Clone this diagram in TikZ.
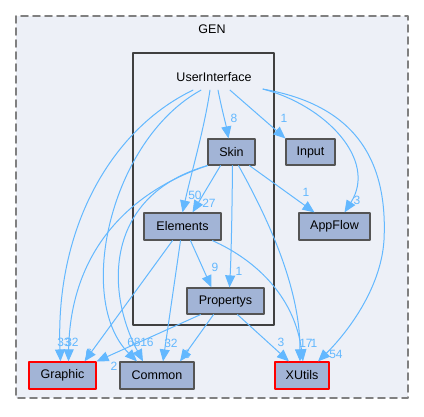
\documentclass[tikz,border=0pt]{standalone}
\usepackage{fontspec}
\setmainfont{Liberation Sans}
\usetikzlibrary{calc}
\usetikzlibrary{arrows.meta}

\begin{document}
\begin{tikzpicture}[line cap=round,line join=round,x=1pt,y=-1pt,
  dirnode/.style={draw=nodegray,line width=1.2pt,fill=nodefill,minimum height=26pt,inner sep=0pt,font=\fontsize{12.5}{15}\selectfont},
  extnode/.style={dirnode,draw=red},
  dep/.style={-{Triangle[length=12pt,width=10pt]},color=edgeblue,line width=1pt},
  lbl/.style={color=edgeblue,font=\fontsize{12}{14}\selectfont,inner sep=0pt}]
\definecolor{nodefill}{rgb}{0.635,0.706,0.839}
\definecolor{nodegray}{rgb}{0.33,0.33,0.33}
\definecolor{edgeblue}{rgb}{0.388,0.722,1.}
\definecolor{clusterfill}{rgb}{0.929,0.941,0.969}
\definecolor{dashgray}{rgb}{0.5,0.5,0.5}
\definecolor{framegray}{rgb}{0.25,0.25,0.25}
\useasboundingbox (0,0) rectangle (424,416);
\fill[color=white] (0,0) rectangle (424,416);
\draw [line width=1.6pt,dash pattern=on 7pt off 5pt,color=dashgray,fill=clusterfill] (16,16) rectangle (408,398);
\node[font=\fontsize{12.5}{15}\selectfont] (gen) at (212,29) {GEN};
\draw [line width=2.2pt,color=framegray,fill=clusterfill] (133,53) rectangle (274,325);
\node[font=\fontsize{12.5}{15}\selectfont] (ui) at (214,77) {UserInterface};
% directories
\node[dirnode,minimum width=47pt] (skin) at (231.5,152) {Skin};
\node[dirnode,minimum width=49pt] (input) at (310.5,152) {Input};
\node[dirnode,minimum width=71pt,minimum height=27pt] (appflow) at (334.5,226.5) {AppFlow};
\node[dirnode,minimum width=77pt,minimum height=27pt] (elements) at (182.5,226.5) {Elements};
\node[dirnode,minimum width=77pt] (propertys) at (225.5,301) {Propertys};
\node[extnode,minimum width=67pt,minimum height=27pt] (graphic) at (62.5,375.5) {Graphic};
\node[dirnode,minimum width=74pt,minimum height=27pt] (common) at (157,375.5) {Common};
\node[extnode,minimum width=54pt,minimum height=27pt] (xutils) at (302,375.5) {XUtils};
% from UserInterface
\draw [dep] ([xshift=4pt,yshift=-5pt]ui.south) .. controls (222,110) and (226,125) .. ([xshift=-3pt]skin.north);
\draw [dep] ([xshift=16pt,yshift=-5pt]ui.south) -- (input.north west);
\draw [dep] ([xshift=49pt,yshift=-4pt]ui.south) .. controls (325,105) and (378,160) .. ([xshift=10pt]appflow.north);
\draw [dep] ([xshift=49pt,yshift=-4pt]ui.south) .. controls (355,105) and (388,160) .. (384,240) .. controls (381,290) and (345,335) .. ([xshift=16pt]xutils.north);
\draw [dep] ([xshift=-4pt,yshift=-5pt]ui.south) .. controls (204,130) and (192,170) .. (elements.north);
\draw [dep] ([xshift=-21pt,yshift=-5pt]ui.south) .. controls (110,130) and (55,230) .. ([xshift=-2pt]graphic.north);
\draw [dep] ([xshift=-13pt,yshift=-5pt]ui.south) .. controls (110,140) and (75,300) .. ([xshift=-20pt]common.north);
% from Skin
\draw [dep] ([xshift=-11pt]skin.south) -- ([xshift=10pt]elements.north);
\draw [dep] ([xshift=18pt]skin.south) -- ([xshift=-20pt]appflow.north);
\draw [dep] ([xshift=1pt]skin.south) .. controls (232,220) and (231,260) .. ([xshift=4pt]propertys.north);
\draw [dep] ([xshift=7pt]skin.south) .. controls (280,240) and (300,300) .. ([xshift=-2pt]xutils.north);
\draw [dep] (skin.south west) .. controls (120,195) and (70,260) .. ([xshift=6pt]graphic.north);
\draw [dep] (skin.south west) .. controls (105,195) and (105,290) .. ([xshift=-14pt]common.north);
% from Elements
\draw [dep] ([xshift=8pt]elements.south) -- ([xshift=-14pt]propertys.north);
\draw [dep] ([xshift=-10pt]elements.south) -- ([xshift=22pt]graphic.north);
\draw [dep] ([xshift=-2pt]elements.south) -- ([xshift=6pt]common.north);
\draw [dep] ([xshift=30pt]elements.south) .. controls (260,262) and (295,300) .. ([xshift=1pt]xutils.north);
% from Propertys
\draw [dep] ([xshift=-25pt]propertys.south) -- (graphic.north east);
\draw [dep] ([xshift=-12pt]propertys.south) -- ([xshift=23pt]common.north);
\draw [dep] ([xshift=12pt]propertys.south) -- ([xshift=-13pt]xutils.north);
% counts
\node[lbl] (n8) at (234,118) {8};
\node[lbl] (n1i) at (284,118) {1};
\node[lbl] (n3a) at (357,200) {3};
\node[lbl] (n54) at (336,354) {54};
\node[lbl] (n50) at (195,195) {50};
\node[lbl] (n27) at (209,203) {27};
\node[lbl] (n1a) at (306,192) {1};
\node[lbl] (n9) at (215,267) {9};
\node[lbl] (n1p) at (239,271) {1};
\node[lbl] (n33) at (64,342) {33};
\node[lbl] (n32g) at (72,342) {32};
\node[lbl] (n6g) at (89,353) {6};
\node[lbl] (n2) at (114,366) {2};
\node[lbl] (n68) at (134,342) {68};
\node[lbl] (n16) at (147,342) {16};
\node[lbl] (n32c) at (171,343) {32};
\node[lbl] (n6c) at (187,354) {6};
\node[lbl] (n3x) at (281,342) {3};
\node[lbl] (n17) at (306,343) {17};
\node[lbl] (n1x) at (314,343) {1};
\end{tikzpicture}
\end{document}
